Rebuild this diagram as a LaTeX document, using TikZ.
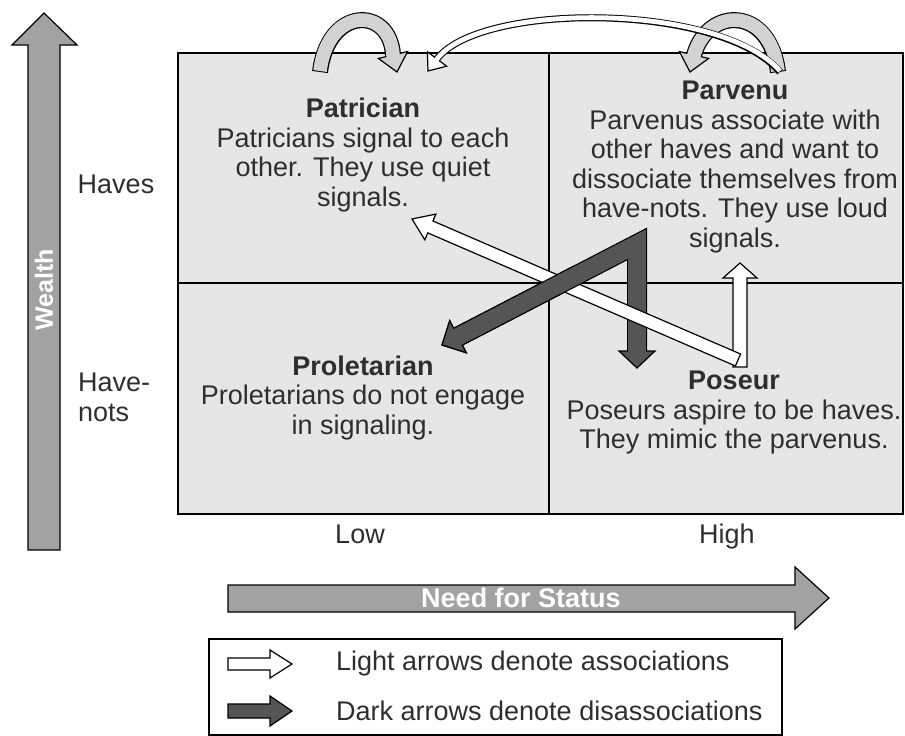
\documentclass[tikz,border=0pt]{standalone}
\usepackage{fontspec}
\setmainfont{Liberation Sans}
\usetikzlibrary{calc}
\definecolor{gridc}{HTML}{E6E6E6}
\definecolor{darkar}{HTML}{555555}
\definecolor{loopc}{HTML}{D2D2D2}
\definecolor{axisc}{HTML}{A2A2A2}
\definecolor{textc}{HTML}{2E2E2E}
% straight band arrow: #1 style, #2 start, #3 tip, #4 shaft half width, #5 head half width, #6 head length
\newcommand\bandarrow[6]{%
  \path ($(#3)!#6!(#2)$) coordinate (fbase);
  \filldraw[#1] ($(#2)!#4!90:(#3)$) -- ($(fbase)!#4!90:(#3)$) -- ($(fbase)!#5!90:(#3)$)
    -- (#3) -- ($(fbase)!#5!-90:(#3)$) -- ($(fbase)!#4!-90:(#3)$) -- ($(#2)!#4!-90:(#3)$) -- cycle;
}
% arrow head only: #1 style, #2 base, #3 tip, #4 half width
\newcommand\headonly[4]{%
  \filldraw[#1] (#3) -- ($(#2)!#4!90:(#3)$) -- ($(#2)!#4!-90:(#3)$) -- cycle;
}
\begin{document}
\begin{tikzpicture}[x=1pt,y=-1pt,
  txt/.style={font=\fontsize{27}{29.5}\selectfont, text=textc, align=center, inner sep=0pt},
  outl/.style={draw=black, line width=1.2pt, line join=miter},
  lightar/.style={outl, fill=white},
  darkstyle/.style={outl, fill=darkar},
  loophead/.style={outl, fill=loopc}]
\useasboundingbox (0,0) rectangle (905,736);

% ---------- grid ----------
\coordinate (gtl) at (178,53);
\coordinate (gbr) at (903,514);
\coordinate (vt) at (549,53);
\coordinate (vb) at (549,514);
\coordinate (hl) at (178,283);
\coordinate (hr) at (903,283);
\filldraw[fill=gridc, draw=black, line width=1.5pt] (gtl) rectangle (gbr);
\draw[line width=1.5pt] (vt) -- (vb);
\draw[line width=1.5pt] (hl) -- (hr);

% ---------- wealth axis ----------
\filldraw[fill=axisc, draw=black, line width=1.2pt, line join=miter]
  (28,550) -- (28,45) -- (12,45) -- (44,13) -- (77,45) -- (60,45) -- (60,550) -- cycle;
\node[rotate=90, font=\bfseries\fontsize{25}{25}\selectfont, text=white, inner sep=0pt] (wealth) at (44,290) {Wealth};
\node[txt] (haves) at (116,184) {Haves};
\node[txt, align=left, anchor=north west] (havenots) at (78,373) {Have-\\nots};

% ---------- status axis ----------
\filldraw[fill=axisc, draw=black, line width=1.2pt, line join=miter]
  (228,585) -- (795,585) -- (795,567) -- (829,598) -- (795,629) -- (795,612) -- (228,612) -- cycle;
\node[font=\bfseries\fontsize{27}{27}\selectfont, text=white, inner sep=0pt] (need) at (521,598) {Need for Status};
\node[txt, anchor=base] (low) at (360,543) {Low};
\node[txt, anchor=base] (high) at (727,543) {High};

% ---------- quadrant texts ----------
\node[txt] (patrician) at (363,155) {\textbf{Patrician}\\Patricians signal to each\\other. They use quiet\\signals.};
\node[txt] (parvenu) at (735,167) {\textbf{Parvenu}\\Parvenus associate with\\other haves and want to\\dissociate themselves from\\have-nots. They use loud\\signals.};
\node[txt] (proletarian) at (363,398) {\textbf{Proletarian}\\Proletarians do not engage\\in signaling.};
\node[txt] (poseur) at (734,413) {\textbf{Poseur}\\Poseurs aspire to be haves.\\They mimic the parvenus.};

% ---------- top loops ----------
% Patrician self loop
\coordinate (pa0) at (320,72);
\coordinate (pab) at (393,55);
\coordinate (pat) at (397,72);
\draw[line width=16pt, black] (pa0) .. controls (328,6) and (390,6) .. (pab);
\headonly{loophead}{pab}{pat}{15pt}
\draw[line width=13.6pt, loopc] (320,71) .. controls (328,6) and (390,6) .. (pab) -- ($(pab)!1.5pt!(pat)$);
% Parvenu self loop
\coordinate (pv0) at (778,72);
\coordinate (pvb) at (694,55);
\coordinate (pvt) at (690,72);
\draw[line width=16pt, black] (pv0) .. controls (770,6) and (708,6) .. (pvb);
\headonly{loophead}{pvb}{pvt}{15pt}
\draw[line width=13.6pt, loopc] (778,71) .. controls (770,6) and (708,6) .. (pvb) -- ($(pvb)!1.5pt!(pvt)$);
% long arc Parvenu -> Patrician
\coordinate (la0) at (780,72);
\coordinate (lab) at (437,59);
\coordinate (lat) at (428,71);
\draw[line width=7pt, black] (la0) .. controls (720,2) and (480,2) .. (lab);
\headonly{lightar}{lab}{lat}{12pt}
\draw[line width=4.8pt, white] (780,71) .. controls (720,2) and (480,2) .. (lab) -- ($(lab)!1.5pt!(lat)$);

% ---------- dark bent arrow (Parvenu dissociates) ----------
\coordinate (dc) at (637,244);
\coordinate (dt1) at (637,368);
\coordinate (dt2) at (442,345);
\coordinate (db1) at ($(dt1)!17pt!(dc)$);
\coordinate (db2) at ($(dt2)!18pt!(dc)$);
\coordinate (dm) at ($(dc)!0.3!(dt2)$);
\draw[line width=20pt, black, line join=miter] (db1) -- (dc) -- (db2);
\headonly{darkstyle}{db1}{dt1}{18pt}
\headonly{darkstyle}{db2}{dt2}{18pt}
\draw[line width=17.6pt, darkar, line join=miter] ($(db1)!1.5pt!(dt1)$) -- (dc) -- ($(db2)!1.5pt!(dt2)$);

% ---------- white arrows (Poseur associates) ----------
\coordinate (wv0) at (740,367);
\coordinate (wvt) at (740,263);
\bandarrow{lightar}{wv0}{wvt}{7pt}{17pt}{15pt}
\coordinate (wd0) at (738,360);
\coordinate (wdt) at (412,219);
\bandarrow{lightar}{wd0}{wdt}{6.5pt}{14pt}{20pt}

% dark diagonal redrawn on top of the white diagonal
\draw[line width=20pt, black] (dm) -- (db2);
\headonly{darkstyle}{db2}{dt2}{18pt}
\draw[line width=17.6pt, darkar] ($(dm)!-3pt!(db2)$) -- ($(db2)!1.5pt!(dt2)$);

% ---------- legend ----------
\draw[line width=1.5pt] (209,639) rectangle (782,735);
\coordinate (l1a) at (228,664);
\coordinate (l1b) at (292,664);
\coordinate (l2a) at (228,711);
\coordinate (l2b) at (292,711);
\bandarrow{lightar}{l1a}{l1b}{6pt}{14pt}{22pt}
\bandarrow{darkstyle}{l2a}{l2b}{7pt}{15pt}{22pt}
\node[txt, anchor=west] (leg1) at (336,664) {Light arrows denote associations};
\node[txt, anchor=west] (leg2) at (336,711) {Dark arrows denote disassociations};
\end{tikzpicture}
\end{document}
